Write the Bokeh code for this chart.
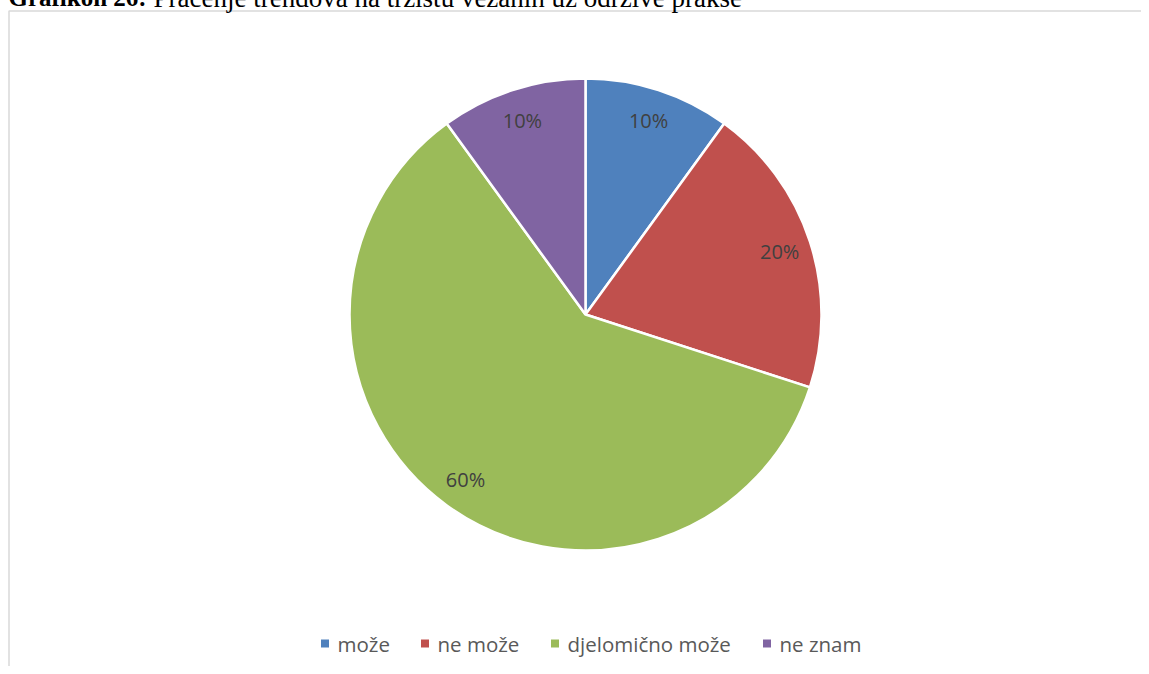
import math
from bokeh.plotting import figure
from bokeh.models import Range1d, ColumnDataSource
from bokeh.core.properties import value
from bokeh.embed import file_html
from bokeh.resources import INLINE

# ---- data ----
categories = ["može", "ne može", "djelomično može", "ne znam"]
shares = [10, 20, 60, 10]
colors = ["#4F81BD", "#C0504D", "#9BBB59", "#8064A2"]
title_bold = "Grafikon 26:"
title_rest = "Praćenje trendova na tržištu vezanih uz održive prakse"

# ---- layout (window pixel coordinates, y negated) ----
W, H = 1141, 674
CX, CY, R = 585, -314, 236
LABEL_R = 0.865 * R
LEGEND_Y = -643
LEGEND_TEXT_X = [337, 437, 567, 779]

p = figure(width=W, height=H, output_backend="svg", toolbar_location=None,
           x_range=Range1d(0, W), y_range=Range1d(8 - H, 8),
           min_border=0, outline_line_color=None)
p.margin = (-8, 0, 0, 0)
p.axis.visible = False
p.grid.visible = False
p.background_fill_color = "white"

# chart border box
p.line(x=[8.5, 8.5, 1160], y=[-700, -10.5, -10.5], line_color="#d9d9d9", line_width=1.5)

# title (cut off at top)
p.text(x=[8], y=[3], text=[title_bold], text_font=value("Liberation Serif"),
       text_font_style="bold", text_font_size="25px", text_color="black",
       text_baseline="alphabetic", text_align="left")
p.text(x=[153], y=[3], text=[title_rest], text_font=value("Liberation Serif"),
       text_font_size="27px", text_color="black",
       text_baseline="alphabetic", text_align="left")

# pie
total = float(sum(shares))
starts, ends, lx, ly, labels = [], [], [], [], []
cum = 0.0
for s in shares:
    a0 = math.pi / 2 - 2 * math.pi * cum / total
    cum += s
    a1 = math.pi / 2 - 2 * math.pi * cum / total
    starts.append(a0)
    ends.append(a1)
    mid = (a0 + a1) / 2
    lx.append(CX + LABEL_R * math.cos(mid))
    ly.append(CY + LABEL_R * math.sin(mid))
    labels.append(f"{round(100 * s / total)}%")

src = ColumnDataSource(dict(start=starts, end=ends, color=colors, cat=categories,
                            lx=lx, ly=ly, label=labels))
p.wedge(x=CX, y=CY, radius=R, start_angle="start", end_angle="end", direction="clock",
        fill_color="color", line_color="white", line_width=2.5, source=src)
p.text(x="lx", y="ly", text="label", source=src, text_font=value("Open Sans"),
       text_font_size="20px", text_color="#404040", text_align="center",
       text_baseline="middle")

# legend
mx = [t - 12.5 for t in LEGEND_TEXT_X]
p.scatter(x=mx, y=[LEGEND_Y] * 4, marker="square", size=8, fill_color=colors,
          line_color=None)
p.text(x=LEGEND_TEXT_X, y=[LEGEND_Y] * 4, text=categories, text_font=value("Open Sans"),
       text_font_size="20.5px", text_color="#595959", text_align="left",
       text_baseline="middle")

open("out.html", "w").write(file_html(p, INLINE))
